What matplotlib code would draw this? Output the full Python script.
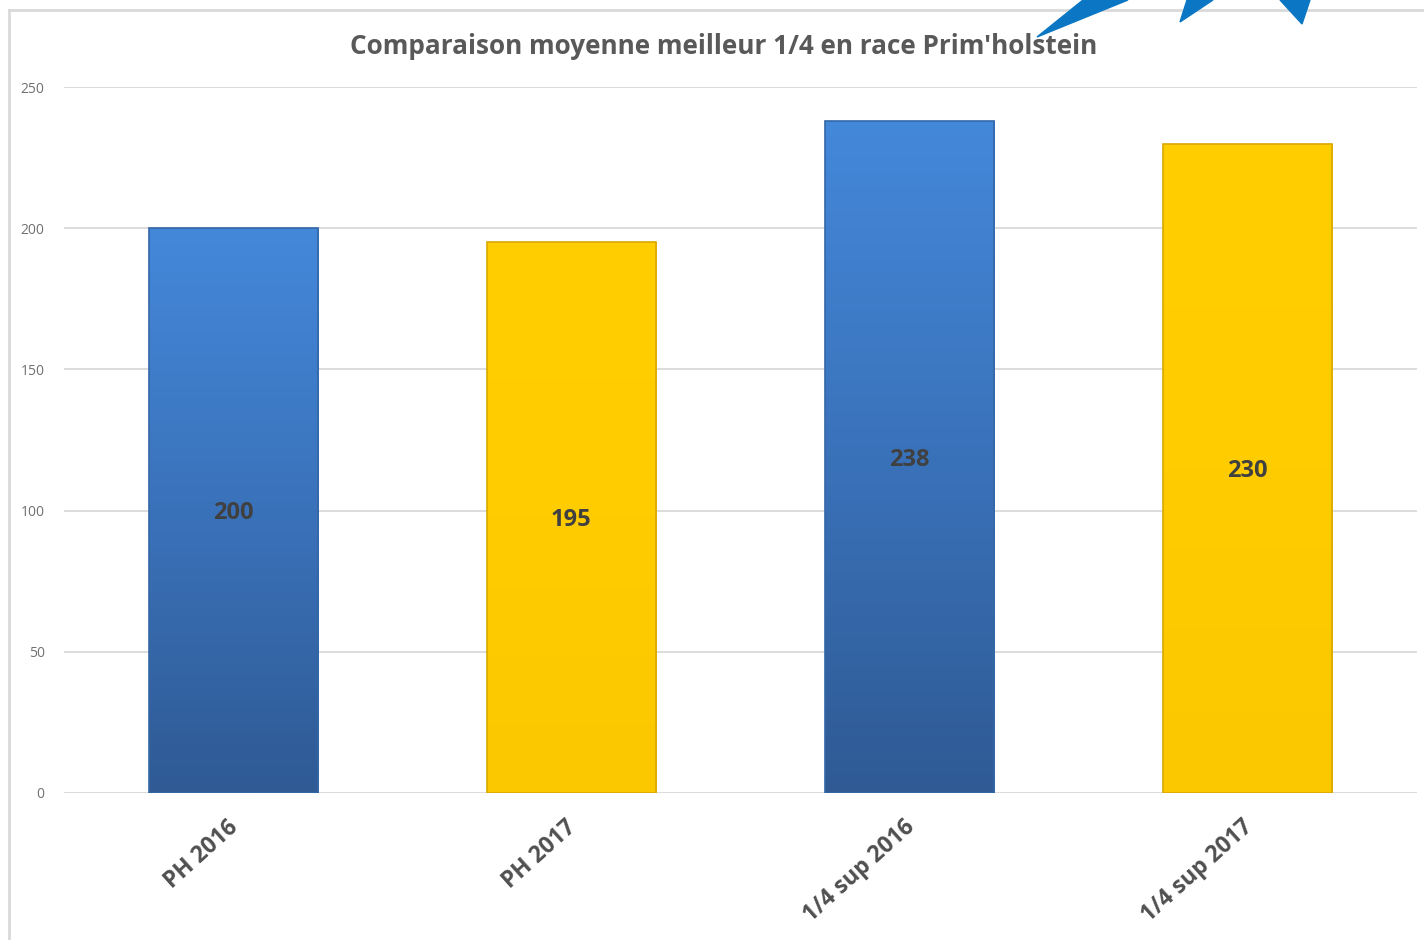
import numpy as np
import matplotlib
matplotlib.use("Agg")
import matplotlib.pyplot as plt
import matplotlib.transforms as mtransforms
from matplotlib.colors import LinearSegmentedColormap
from matplotlib.patches import Polygon
from matplotlib.lines import Line2D

# data
categories = ["PH 2016", "PH 2017", "1/4 sup 2016", "1/4 sup 2017"]
values = [200, 195, 238, 230]
kinds = ["blue", "yellow", "blue", "yellow"]
title = "Comparaison moyenne meilleur 1/4 en race Prim'holstein"

plt.rcParams["font.family"] = ["Open Sans", "DejaVu Sans"]

fig = plt.figure(figsize=(14.24, 9.40), dpi=100)
ax = fig.add_axes([0.045, 0.1564, 0.95, 0.751])

# gradients bottom -> top
cmaps = {
    "blue": LinearSegmentedColormap.from_list("b", ["#2F5A94", "#3A72BA", "#4488DA"]),
    "yellow": LinearSegmentedColormap.from_list("y", ["#FBC800", "#FFCC00", "#FFCE00"]),
}
edges = {"blue": "#3467A8", "yellow": "#D9A800"}

x = np.arange(len(categories))
bars = ax.bar(x, values, width=0.5, color="none", edgecolor="none", zorder=3)
grad = np.linspace(0, 1, 256).reshape(-1, 1)
for b, k, v in zip(bars, kinds, values):
    x0, w = b.get_x(), b.get_width()
    im = ax.imshow(grad, cmap=cmaps[k], aspect="auto", origin="lower",
                   extent=[x0, x0 + w, 0, v], zorder=3)
    im.set_clip_path(b)
    ax.add_patch(plt.Rectangle((x0, 0), w, v, fill=False, edgecolor=edges[k],
                               linewidth=1.2, zorder=4))
    ax.text(b.get_x() + w / 2, v / 2 - 1, str(v), ha="center", va="center",
            fontsize=17, fontweight="bold", color="#404040", zorder=5)

ax.set_xlim(-0.5, len(categories) - 0.5)
ax.set_ylim(0, 250)
ax.set_yticks(range(0, 251, 50))
ax.yaxis.grid(True, color="#D9D9D9", linewidth=1.3, zorder=0)
ax.set_axisbelow(True)
for s in ax.spines.values():
    s.set_visible(False)
ax.tick_params(axis="both", length=0)
ax.tick_params(axis="y", labelsize=10, labelcolor="#707070", pad=14)
ax.set_xticks(x)
ax.set_xticklabels(categories, rotation=42, ha="right", rotation_mode="anchor",
                   fontsize=16.5, fontweight="bold", color="#505050")
ax.tick_params(axis="x", pad=16)
offset = mtransforms.ScaledTranslation(-6 / 100, 0, fig.dpi_scale_trans)
for lab in ax.get_xticklabels():
    lab.set_transform(lab.get_transform() + offset)

fig.text(0.508, 0.951, title, ha="center", va="center", fontsize=18.8,
         fontweight="bold", color="#595959")

# chart frame (left and top)
fig.add_artist(Line2D([9 / 1424, 9 / 1424], [0, 1 - 10 / 940], color="#D9D9D9",
                      linewidth=2, transform=fig.transFigure))
fig.add_artist(Line2D([9 / 1424, 1], [1 - 10 / 940, 1 - 10 / 940], color="#D9D9D9",
                      linewidth=2, transform=fig.transFigure))

# decorative blue arrows cut off at top
tris = [
    [(1037, 37), (1083, 0), (1128, 0)],
    [(1180, 22), (1187, 0), (1213, 0)],
    [(1302, 24), (1280, 0), (1310, 0)],
]
for t in tris:
    pts = [(px / 1424, 1 - py / 940) for px, py in t]
    fig.add_artist(Polygon(pts, closed=True, color="#0B77C4",
                           transform=fig.transFigure, zorder=10))

fig.savefig("out.png", dpi=100)
